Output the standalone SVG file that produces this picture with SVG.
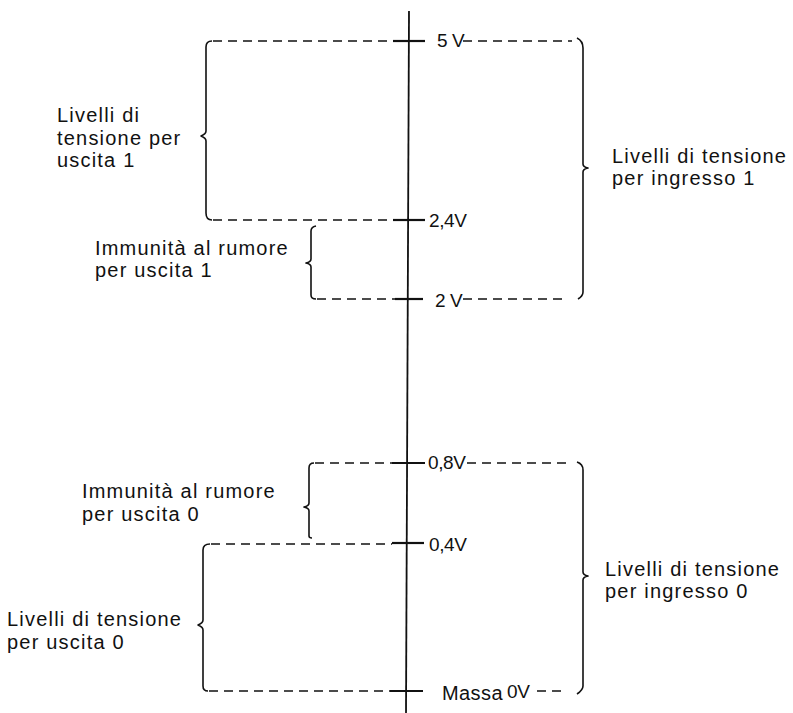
<svg xmlns="http://www.w3.org/2000/svg" width="793" height="713" viewBox="0 0 793 713">
<style>
  .ln{stroke:#111;fill:none}
  .axis{stroke-width:1.8}
  .tick{stroke-width:2.2}
  .dash{stroke-width:1.5;stroke-dasharray:9 6}
  .brace{stroke-width:1.6;stroke-linejoin:round}
  .lbl{font-family:"Liberation Sans",Arial,sans-serif;font-size:20px;letter-spacing:1.2px;fill:#111}
  .val{font-family:"Liberation Sans",Arial,sans-serif;font-size:19px;letter-spacing:-0.4px;fill:#111}
</style>
<rect width="793" height="713" fill="#fff"/>
<g id="axis">
  <line class="ln axis" x1="409" y1="11" x2="406" y2="713"/>
  <line class="ln tick" x1="393" y1="41" x2="425" y2="41"/>
  <line class="ln tick" x1="393" y1="220" x2="425" y2="220"/>
  <line class="ln tick" x1="395" y1="299" x2="423" y2="299"/>
  <line class="ln tick" x1="392" y1="463" x2="425" y2="463"/>
  <line class="ln tick" x1="392" y1="543" x2="424" y2="543"/>
  <line class="ln tick" x1="390" y1="691" x2="423" y2="691"/>
</g>
<g id="values">
  <text class="val" x="437" y="47">5 V</text>
  <text class="val" x="429" y="227">2,4V</text>
  <text class="val" x="435" y="307">2 V</text>
  <text class="val" x="428" y="469">0,8V</text>
  <text class="val" x="429" y="551">0,4V</text>
  <text class="lbl" x="442" y="700" style="letter-spacing:0.4px">Massa</text>
  <text class="val" x="507" y="698">0V</text>
</g>
<g id="connectors">
  <line class="ln dash" x1="213" y1="41" x2="393" y2="41"/>
  <line class="ln dash" x1="463" y1="41" x2="572" y2="41"/>
  <line class="ln dash" x1="213" y1="220" x2="393" y2="220"/>
  <line class="ln dash" x1="317" y1="299" x2="395" y2="299"/>
  <line class="ln dash" x1="463" y1="299" x2="568" y2="299"/>
  <line class="ln dash" x1="315" y1="463" x2="392" y2="463"/>
  <line class="ln dash" x1="467" y1="463" x2="571" y2="463"/>
  <line class="ln dash" x1="211" y1="544" x2="392" y2="544"/>
  <line class="ln dash" x1="209" y1="691" x2="390" y2="691"/>
  <line class="ln dash" x1="537" y1="691" x2="562" y2="691"/>
</g>
<g id="out1">
  <path class="ln brace" d="M212,41 Q206,41 206,47 L206,131 Q206,134 201,136 Q206,138 206,141 L206,213 Q206,220 212,220"/>
  <text class="lbl" x="57" y="122">Livelli di</text>
  <text class="lbl" x="57" y="145">tensione per</text>
  <text class="lbl" x="57" y="167">uscita 1</text>
</g>
<g id="noise1">
  <path class="ln brace" d="M316,226 Q311,227 311,231 L311,259 Q311,262 306,263 Q311,264 311,267 L311,295 Q311,299 316,299"/>
  <text class="lbl" x="95" y="255">Immunità al rumore</text>
  <text class="lbl" x="95" y="277">per uscita 1</text>
</g>
<g id="in1">
  <path class="ln brace" d="M577,38 Q583,41 583,48 L583,164 Q583,167 588,168 Q583,169 583,172 L583,292 Q583,296 578,299"/>
  <text class="lbl" x="612" y="163">Livelli di tensione</text>
  <text class="lbl" x="612" y="185">per ingresso 1</text>
</g>
<g id="noise0">
  <path class="ln brace" d="M314,463 Q309,463 309,468 L309,503 Q309,506 304,507 Q309,508 309,511 L309,536 Q309,538 312,538"/>
  <text class="lbl" x="82" y="498">Immunità al rumore</text>
  <text class="lbl" x="82" y="521">per uscita 0</text>
</g>
<g id="out0">
  <path class="ln brace" d="M210,544 Q203,544 203,550 L203,620 Q203,623 198,625 Q203,627 203,630 L203,686 Q203,691 208,691"/>
  <text class="lbl" x="7" y="626">Livelli di tensione</text>
  <text class="lbl" x="7" y="649">per uscita 0</text>
</g>
<g id="in0">
  <path class="ln brace" d="M577,462 Q583,464 583,470 L583,572 Q583,575 588,576 Q583,577 583,580 L583,686 Q583,690 577,694"/>
  <text class="lbl" x="605" y="576">Livelli di tensione</text>
  <text class="lbl" x="605" y="598">per ingresso 0</text>
</g>
</svg>
